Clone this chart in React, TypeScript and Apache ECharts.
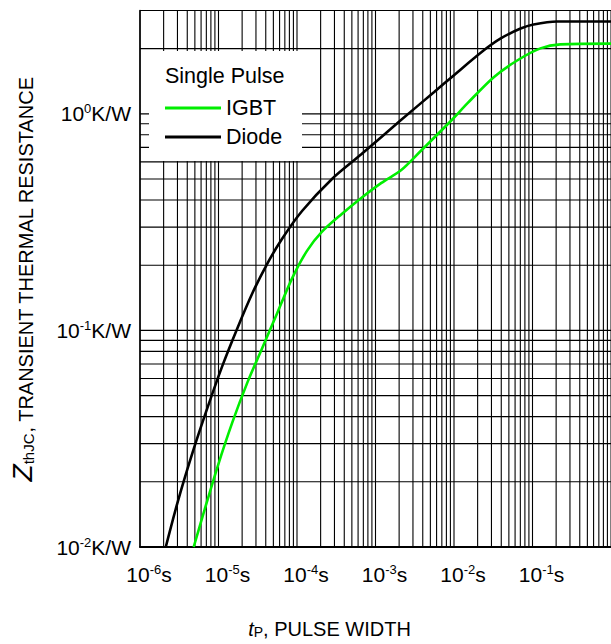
import React, { useEffect, useRef } from "react";
import * as echarts from "echarts";

const FONT = '"Liberation Sans", Arial, Helvetica, sans-serif';

// Pulse width (s) and Zth (K/W)
const igbtT = [4.83e-6, 6.26e-6, 9.7e-6, 1.5e-5, 2.33e-5, 3.61e-5, 5.59e-5, 8.66e-5, 1.34e-4, 2.07e-4, 3.72e-4, 6.65e-4, 1.19e-3, 2.13e-3, 3.82e-3, 9.17e-3, 0.015, 0.0321, 0.0645, 0.126, 0.226, 1.0];
const igbtZ = [0.01, 0.0138, 0.0234, 0.0376, 0.0574, 0.083, 0.12, 0.174, 0.233, 0.285, 0.345, 0.41, 0.48, 0.55, 0.677, 0.929, 1.123, 1.477, 1.768, 2.006, 2.093, 2.109];
const diodeT = [2.13e-6, 3.03e-6, 4.69e-6, 7.26e-6, 1.12e-5, 1.74e-5, 2.69e-5, 4.17e-5, 6.46e-5, 1.16e-4, 2.77e-4, 6.65e-4, 2.13e-3, 5.59e-3, 0.01, 0.024, 0.0394, 0.0705, 0.103, 0.207, 1.0];
const diodeZ = [0.01, 0.0162, 0.0274, 0.0441, 0.0686, 0.1024, 0.148, 0.203, 0.265, 0.356, 0.499, 0.652, 0.939, 1.261, 1.509, 1.964, 2.229, 2.477, 2.585, 2.667, 2.67];

const xDecades = [-6, -5, -4, -3, -2, -1];
const yDecades = [-2, -1];
const multipliers = [1, 2, 3, 4, 5, 6, 7, 8, 9];
const yTopLines = [1, 2];

const xMin = 1e-6;
const xMax = 1;
const yMin = 0.01;
const yMax = 3;

export default function App() {
  const ref = useRef<HTMLDivElement>(null);
  useEffect(() => {
    if (!ref.current) return;
    const chart = echarts.init(ref.current, null, { renderer: "svg" });

    const xGrid: number[] = [];
    xDecades.forEach((e) =>
      multipliers.forEach((m) => {
        const v = m * Math.pow(10, e);
        if (v > xMin * 1.0001) xGrid.push(v);
      })
    );
    const yGrid: number[] = [];
    yDecades.forEach((e) =>
      multipliers.forEach((m) => {
        const v = m * Math.pow(10, e);
        if (v > yMin * 1.0001) yGrid.push(v);
      })
    );
    yTopLines.forEach((v) => yGrid.push(v));

    const isPow = (v: number) => Math.abs(Math.log10(v) - Math.round(Math.log10(v))) < 1e-6;

    const gridLine = (data: number[][]) => ({
      type: "line",
      data,
      z: 1,
      silent: true,
      symbol: "none",
      legendHoverLink: false,
      lineStyle: { color: "#000", width: 1.1 },
      emphasis: { disabled: true },
      tooltip: { show: false },
    });

    const gridSeries = [
      ...xGrid.map((v) => gridLine([[v, yMin], [v, yMax]])),
      ...yGrid.map((v) => gridLine([[xMin, v], [xMax, v]])),
    ];

    const tickRich = {
      b: { fontSize: 21, fontFamily: FONT, color: "#000", lineHeight: 23 },
      sup: { fontSize: 13, fontFamily: FONT, color: "#000", verticalAlign: "top", lineHeight: 13 },
    };

    const option: any = {
      animation: false,
      backgroundColor: "#fff",
      textStyle: { fontFamily: FONT, color: "#000" },
      grid: {
        left: 137,
        right: 0,
        top: 10.5,
        bottom: 93.3,
        show: true,
        borderColor: "#000",
        borderWidth: 1,
        backgroundColor: "transparent",
      },
      xAxis: {
        type: "log",
        logBase: 10,
        min: xMin,
        max: xMax,
        axisLine: { show: true, lineStyle: { color: "#000", width: 2 } },
        axisTick: { show: false },
        splitLine: { show: false },
        minorSplitLine: { show: false },
        axisLabel: {
          margin: 16,
          showMaxLabel: false,
          formatter: (v: number) => {
            if (!isPow(v) || v >= xMax) return "";
            const e = Math.round(Math.log10(v));
            return `{pad| }{b|10}{sup|${e}}{b|s}`;
          },
          rich: {
            pad: { width: 18, fontSize: 21, fontFamily: FONT },
            ...tickRich,
          },
        },
        name: "{ti|t}{sub|P}{n|, PULSE WIDTH}",
        nameLocation: "middle",
        nameGap: 70,
        nameTextStyle: {
          padding: [0, 92, 0, 0],
          rich: {
            ti: { fontSize: 20, fontStyle: "italic", fontFamily: FONT, color: "#000", lineHeight: 22, verticalAlign: "bottom" },
            sub: { fontSize: 14, fontFamily: FONT, color: "#000", lineHeight: 14, verticalAlign: "bottom" },
            n: { fontSize: 20, fontFamily: FONT, color: "#000", lineHeight: 22, verticalAlign: "bottom" },
          },
        },
      },
      yAxis: {
        type: "log",
        logBase: 10,
        min: yMin,
        max: yMax,
        axisLine: { show: true, lineStyle: { color: "#000", width: 1.5 } },
        axisTick: { show: false },
        splitLine: { show: false },
        minorSplitLine: { show: false },
        axisLabel: {
          margin: 9,
          formatter: (v: number) => {
            if (!isPow(v)) return "";
            const e = Math.round(Math.log10(v));
            return `{b|10}{sup|${e}}{b|K/W}`;
          },
          rich: tickRich,
        },
        name: "{zi|Z}{sub|thJC}{n|, TRANSIENT THERMAL RESISTANCE}",
        nameLocation: "middle",
        nameGap: 104,
        nameRotate: 90,
        nameTextStyle: {
          rich: {
            zi: { fontSize: 28, fontStyle: "italic", fontFamily: FONT, color: "#000", lineHeight: 28, verticalAlign: "bottom" },
            sub: { fontSize: 15, fontFamily: FONT, color: "#000", lineHeight: 15, verticalAlign: "bottom" },
            n: { fontSize: 20, fontFamily: FONT, color: "#000", lineHeight: 22, verticalAlign: "bottom" },
          },
        },
      },
      legend: {
        data: ["IGBT", "Diode"],
        orient: "vertical",
        left: 165,
        top: 97,
        padding: 0,
        icon: "rect",
        itemWidth: 56,
        itemHeight: 3,
        itemGap: 7,
        z: 200,
        selectedMode: false,
        textStyle: { fontSize: 21.5, color: "#000", fontFamily: FONT },
      },
      graphic: [
        {
          type: "rect",
          z: 100,
          shape: { x: 149, y: 51, width: 153, height: 110 },
          style: { fill: "#fff" },
          silent: true,
        },
        {
          type: "text",
          z: 101,
          x: 165,
          y: 76,
          style: {
            text: "Single Pulse",
            font: `21.5px ${FONT}`,
            fill: "#000",
            verticalAlign: "middle",
            align: "left",
          },
          silent: true,
        },
      ],
      series: [
        ...gridSeries,
        {
          name: "IGBT",
          type: "line",
          z: 10,
          symbol: "none",
          smooth: 0.3,
          lineStyle: { color: "#00ee00", width: 2.6 },
          itemStyle: { color: "#00ee00" },
          data: igbtT.map((t, i) => [t, igbtZ[i]]),
        },
        {
          name: "Diode",
          type: "line",
          z: 10,
          symbol: "none",
          smooth: 0.3,
          lineStyle: { color: "#000", width: 2.6 },
          itemStyle: { color: "#000" },
          data: diodeT.map((t, i) => [t, diodeZ[i]]),
        },
      ],
    };

    chart.setOption(option);
    return () => chart.dispose();
  }, []);

  return (
    <div
      ref={ref}
      style={{ position: "fixed", left: 0, top: 0, width: 611, height: 644, background: "#fff" }}
    />
  );
}
